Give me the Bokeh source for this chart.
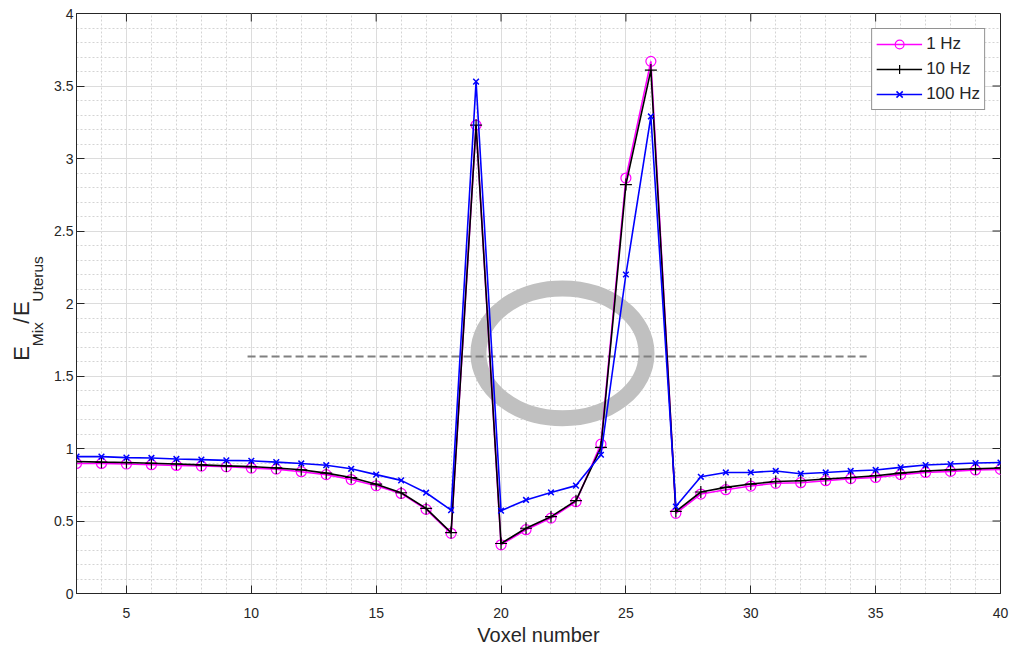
import math
from bokeh.plotting import figure
from bokeh.models import Range1d, FixedTicker
from bokeh.layouts import row
from bokeh.core.properties import value
from bokeh.embed import file_html
from bokeh.resources import INLINE

# ---------------- data ----------------
voxel = list(range(3, 41))
hz1 = [0.897, 0.897, 0.893, 0.888, 0.883, 0.879, 0.874, 0.865, 0.858, 0.840,
       0.820, 0.786, 0.743, 0.690, 0.580, 0.415, 3.230, 0.336, 0.440, 0.520,
       0.633, 1.030, 2.865, 3.670, 0.553, 0.686, 0.716, 0.741, 0.760, 0.764,
       0.778, 0.792, 0.800, 0.820, 0.835, 0.842, 0.852, 0.856]
hz10 = [0.910, 0.906, 0.903, 0.898, 0.893, 0.887, 0.880, 0.875, 0.866, 0.853,
        0.830, 0.800, 0.754, 0.695, 0.587, 0.420, 3.230, 0.345, 0.450, 0.530,
        0.640, 1.008, 2.820, 3.610, 0.566, 0.700, 0.732, 0.755, 0.772, 0.778,
        0.790, 0.800, 0.812, 0.830, 0.845, 0.853, 0.860, 0.866]
hz100 = [0.944, 0.944, 0.937, 0.935, 0.928, 0.923, 0.918, 0.915, 0.906, 0.897,
         0.885, 0.860, 0.820, 0.780, 0.695, 0.575, 3.530, 0.571, 0.645, 0.697,
         0.744, 0.957, 2.200, 3.290, 0.600, 0.805, 0.835, 0.835, 0.845, 0.826,
         0.835, 0.845, 0.852, 0.870, 0.886, 0.893, 0.900, 0.903]
series_labels = ["1 Hz", "10 Hz", "100 Hz"]

x_ticks = [5, 10, 15, 20, 25, 30, 35, 40]
x_tick_labels = ["5", "10", "15", "20", "25", "30", "35", "40"]
y_ticks = [0, 0.5, 1, 1.5, 2, 2.5, 3, 3.5, 4]
y_tick_labels = ["0", "0.5", "1", "1.5", "2", "2.5", "3", "3.5", "4"]
x_minor = list(range(3, 41))
y_minor = [i / 10 for i in range(0, 41)]
x_label = "Voxel number"
# y label pieces: (text, is_subscript)
y_label_parts = [("E", False), ("Mix", True), ("/", False), ("E", False), ("Uterus", True)]

# annotation: dashed threshold line and highlight ring
thr_x0, thr_x1, thr_y = 9.85, 34.64, 1.634
ring_x, ring_y, ring_w, ring_h = 22.46, 1.656, 6.73, 0.895

X0, X1, Y0, Y1 = 3, 40, 0, 4

FONT = "Liberation Sans"
DARK = "#262626"

W, H = 1010, 648
LAB_W = 46
FRAME_L, FRAME_R, FRAME_T, FRAME_B = 76, 1000, 13, 593

p = figure(width=W - LAB_W, height=H, output_backend="svg", toolbar_location=None,
           x_range=Range1d(X0, X1), y_range=Range1d(Y0, Y1),
           min_border_left=FRAME_L - LAB_W, min_border_right=W - FRAME_R,
           min_border_top=FRAME_T, min_border_bottom=H - FRAME_B)
p.outline_line_color = DARK
p.background_fill_color = "white"

xt = FixedTicker(ticks=x_ticks, minor_ticks=x_minor)
yt = FixedTicker(ticks=y_ticks, minor_ticks=y_minor)

for ax, tk, labs in ((p.xaxis[0], xt, x_tick_labels), (p.yaxis[0], yt, y_tick_labels)):
    ax.ticker = tk
    ax.major_label_overrides = {t: l for t, l in zip(tk.ticks, labs)}
    ax.major_tick_in = 8
    ax.major_tick_out = 0
    ax.minor_tick_in = 0
    ax.minor_tick_out = 0
    ax.axis_line_color = DARK
    ax.major_tick_line_color = DARK
    ax.major_label_text_font = FONT
    ax.major_label_text_font_size = "14px"
    ax.major_label_text_color = DARK
p.xaxis[0].major_label_standoff = 14
p.yaxis[0].major_label_standoff = 3
p.xaxis[0].axis_label = x_label
p.xaxis[0].axis_label_text_font = FONT
p.xaxis[0].axis_label_text_font_size = "20px"
p.xaxis[0].axis_label_text_font_style = "normal"
p.xaxis[0].axis_label_text_color = DARK
p.xaxis[0].axis_label_standoff = 3

# inward ticks on the top and right edges of the box
fw = FRAME_R - FRAME_L
fh = FRAME_B - FRAME_T
tlx = 8 * (X1 - X0) / fw
tly = 8 * (Y1 - Y0) / fh
p.segment(x0=x_ticks, y0=[Y1] * len(x_ticks), x1=x_ticks, y1=[Y1 - tly] * len(x_ticks),
          line_color=DARK, line_width=1)
p.segment(x0=[X1] * len(y_ticks), y0=y_ticks, x1=[X1 - tlx] * len(y_ticks), y1=y_ticks,
          line_color=DARK, line_width=1)

p.xgrid.ticker = xt
p.ygrid.ticker = yt
for g in (p.xgrid[0], p.ygrid[0]):
    g.grid_line_color = "#dcdcdc"
    g.grid_line_width = 1
    g.minor_grid_line_color = "#d4d4d4"
    g.minor_grid_line_dash = "2 2"
    g.minor_grid_line_width = 1

# ring and dashed threshold
p.ellipse(x=[ring_x], y=[ring_y], width=[ring_w], height=[ring_h],
          fill_color=None, line_color="#c0c0c0", line_width=16)
p.segment(x0=[thr_x0], y0=[thr_y], x1=[thr_x1], y1=[thr_y],
          line_color="#808080", line_width=2, line_dash="8 4")

# series
p.line(voxel, hz1, line_color="#ff00ff", line_width=1.6, legend_label=series_labels[0])
p.scatter(voxel, hz1, marker="circle", size=10, fill_color=None,
          line_color="#ff00ff", line_width=1.2, legend_label=series_labels[0])
p.line(voxel, hz10, line_color="black", line_width=1.6, legend_label=series_labels[1])
p.scatter(voxel, hz10, marker="cross", size=12, line_color="black",
          line_width=1.2, legend_label=series_labels[1])
p.line(voxel, hz100, line_color="#0000ff", line_width=1.6, legend_label=series_labels[2])
p.scatter(voxel, hz100, marker="x", size=8, line_color="#0000ff",
          line_width=1.5, legend_label=series_labels[2])

lg = p.legend[0]
lg.location = "top_right"
lg.margin = 15
lg.padding = 4
lg.spacing = 3
lg.glyph_width = 46
lg.glyph_height = 22
lg.label_height = 22
lg.label_standoff = 4
lg.label_text_font = FONT
lg.label_text_font_size = "17px"
lg.label_text_color = DARK
lg.border_line_color = DARK
lg.border_line_width = 1
lg.background_fill_color = "white"
lg.background_fill_alpha = 1

# ---- narrow side figure holding the y-axis label with subscripts ----
lab = figure(width=LAB_W, height=H, output_backend="svg", toolbar_location=None,
             title=None, x_axis_type=None, y_axis_type=None,
             x_range=Range1d(0, LAB_W), y_range=Range1d(0, H),
             min_border_left=0, min_border_right=0, min_border_top=0, min_border_bottom=0)
lab.grid.visible = False
lab.outline_line_color = None

main_base_x, sub_base_x = 28.5, 42    # baselines (px from left of page)
start_y = 261                         # where the label starts (px from bottom)
main_fs, sub_fs = 22, 15.5
mid = 0.3465                          # centre of the text box above the baseline (em)
adv = {"E": 0.667, "Mix": 1.555, "/": 0.278, "Uterus": 2.945}
gaps = [2, 0, 3, 3, 0]
pos = start_y
for (txt, is_sub), g in zip(y_label_parts, gaps):
    fs = sub_fs if is_sub else main_fs
    base = sub_base_x if is_sub else main_base_x
    length = adv[txt] * fs
    lab.text(x=[base - mid * fs], y=[pos + length / 2], text=[txt],
             angle=math.pi / 2, text_align="center", text_baseline="middle",
             text_font=value(FONT), text_font_size=value(f"{fs}px"), text_color=DARK)
    pos += length + g

open("out.html", "w").write(file_html(row(lab, p), INLINE))
